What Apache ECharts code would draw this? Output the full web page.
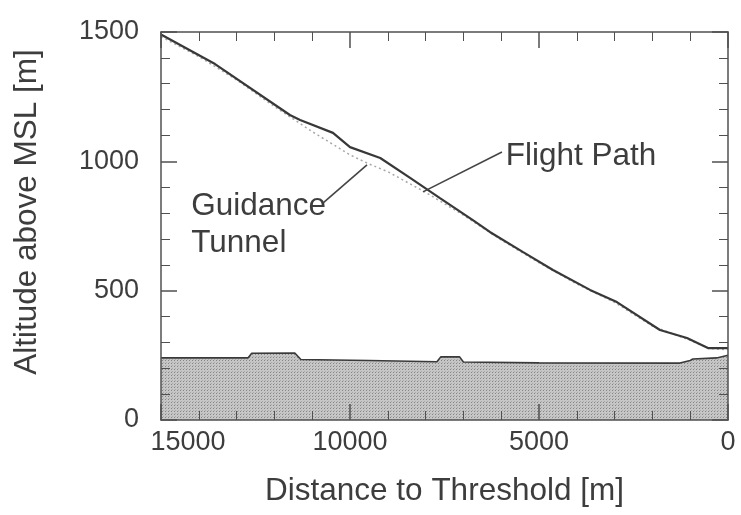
<!DOCTYPE html>
<html>
<head>
<meta charset="utf-8">
<script src="https://cdn.jsdelivr.net/npm/echarts@6/dist/echarts.min.js"></script>
<style>
html,body{margin:0;padding:0;background:#fff;}
#chart{width:741px;height:515px;}
</style>
</head>
<body>
<div id="chart"></div>
<script>
// ---- data (distance to threshold [m], altitude [m]) ----
const flightDist = [15000, 13570, 11590, 11320, 10450, 10000, 9200, 8410, 7620, 6750, 6300, 5420, 4630, 3650, 2940, 1800, 1085, 530, 0];
const flightAlt  = [1490, 1376, 1179, 1160, 1110, 1055, 1013, 936, 858, 773, 727, 649, 580, 503, 456, 348, 317, 278, 278];

const tunnelDist = [15000, 14000, 13000, 12000, 11000, 10000, 9500, 9000, 8000, 7000, 6000, 5000, 4000, 3000, 2000, 1000, 500, 0];
const tunnelAlt  = [1482, 1405, 1315, 1212, 1115, 1025, 990, 960, 880, 792, 696, 608, 526, 455, 363, 308, 276, 272];

const terrainDist = [15000, 12700, 12600, 11460, 11300, 9500, 7700, 7600, 7100, 7000, 5000, 1270, 1000, 930, 300, 0];
const terrainAlt  = [240, 240, 258, 259, 234, 230, 225, 244, 244, 224, 221, 220, 230, 236, 240, 250];

const pairs = (xs, ys) => xs.map((x, i) => [x, ys[i]]);

const FONT = "'Liberation Sans', Arial, Helvetica, sans-serif";
const TXT = '#3d3d3d';
const AXC = '#505050';

// halftone-like fill pattern for the terrain
const pat = document.createElement('canvas');
pat.width = 3; pat.height = 3;
const pc = pat.getContext('2d');
pc.fillStyle = '#c6c6c6'; pc.fillRect(0, 0, 3, 3);
pc.fillStyle = '#858585'; pc.fillRect(0, 0, 1, 1);
pc.fillStyle = '#a9a9a9'; pc.fillRect(1, 2, 1, 1);

const chart = echarts.init(document.getElementById('chart'), null, {renderer: 'canvas'});

function xAxisCfg(pos, showLabel) {
  return {
    type: 'value', position: pos, inverse: true,
    min: 0, max: 15000, interval: 5000, z: 10,
    axisLine: {show: true, onZero: false, lineStyle: {color: AXC, width: 1.5}},
    axisTick: {show: true, inside: true, length: 16, lineStyle: {color: AXC, width: 1.5}},
    minorTick: {show: true, splitNumber: 5, length: 9, lineStyle: {color: AXC, width: 1}},
    splitLine: {show: false},
    axisLabel: showLabel ? {
      show: true, fontSize: 27, color: TXT, fontFamily: FONT, margin: 9,
      formatter: v => v === 15000 ? '{a|' + v + '}' : String(v),
      rich: {a: {fontSize: 27, color: TXT, fontFamily: FONT, padding: [0, 0, 0, 54]}}
    } : {show: false},
    name: showLabel ? 'Distance to Threshold [m]' : '',
    nameLocation: 'middle', nameGap: 55,
    nameTextStyle: {fontSize: 31.5, color: TXT, fontFamily: FONT}
  };
}
function yAxisCfg(pos, showLabel) {
  return {
    type: 'value', position: pos,
    min: 0, max: 1500, interval: 500, z: 10,
    axisLine: {show: true, onZero: false, lineStyle: {color: AXC, width: 1.5}},
    axisTick: {show: true, inside: true, length: 16, lineStyle: {color: AXC, width: 1.5}},
    minorTick: {show: true, splitNumber: 5, length: 9, lineStyle: {color: AXC, width: 1}},
    splitLine: {show: false},
    axisLabel: showLabel ? {show: true, fontSize: 27, color: TXT, fontFamily: FONT, margin: 22, formatter: v => String(v)} : {show: false},
    name: showLabel ? 'Altitude above MSL [m]' : '',
    nameLocation: 'middle', nameGap: 118, nameRotate: 90,
    nameTextStyle: {fontSize: 31.5, color: TXT, fontFamily: FONT, padding: [0, 0, 0, 28]}
  };
}

chart.setOption({
  animation: false,
  backgroundColor: '#fff',
  grid: {left: 161, right: 13, top: 32, bottom: 95},
  xAxis: [xAxisCfg('bottom', true), xAxisCfg('top', false)],
  yAxis: [yAxisCfg('left', true), yAxisCfg('right', false)],
  series: [
    {
      name: 'Terrain', type: 'line', xAxisIndex: 0, yAxisIndex: 0,
      data: pairs(terrainDist, terrainAlt), symbol: 'none', z: 2,
      lineStyle: {color: '#3a3a3a', width: 1.6},
      areaStyle: {color: {image: pat, repeat: 'repeat'}, opacity: 1, origin: 'start'}
    },
    {
      name: 'Guidance Tunnel', type: 'line', xAxisIndex: 0, yAxisIndex: 0,
      data: pairs(tunnelDist, tunnelAlt), symbol: 'none', z: 3,
      lineStyle: {color: '#a8a8a8', width: 1.5, type: [2, 3]}
    },
    {
      name: 'Flight Path', type: 'line', xAxisIndex: 0, yAxisIndex: 0,
      data: pairs(flightDist, flightAlt), symbol: 'none', z: 4,
      lineStyle: {color: '#383838', width: 2.2}
    }
  ]
});

// ---- annotations placed in data coordinates ----
const annFlightText = [5880, 1020];
const annFlightLine = [[5980, 1036], [8070, 882]];
const annGuideText1 = [14200, 825];
const annGuideText2 = [14200, 685];
const annGuideLine = [[10710, 839], [9550, 986]];

const px = p => chart.convertToPixel({xAxisIndex: 0, yAxisIndex: 0}, p);
const a = px(annFlightText), g1 = px(annGuideText1), g2 = px(annGuideText2);
const fl0 = px(annFlightLine[0]), fl1 = px(annFlightLine[1]);
const gl0 = px(annGuideLine[0]), gl1 = px(annGuideLine[1]);
const annFont = '31.5px ' + FONT;

chart.setOption({
  graphic: [
    {type: 'line', z: 20, shape: {x1: fl0[0], y1: fl0[1], x2: fl1[0], y2: fl1[1]}, style: {stroke: '#444', lineWidth: 1.6}},
    {type: 'line', z: 20, shape: {x1: gl0[0], y1: gl0[1], x2: gl1[0], y2: gl1[1]}, style: {stroke: '#444', lineWidth: 1.6}},
    {type: 'text', z: 20, x: a[0], y: a[1], style: {text: 'Flight Path', fill: TXT, font: annFont, textAlign: 'left', textVerticalAlign: 'middle'}},
    {type: 'text', z: 20, x: g1[0], y: g1[1], style: {text: 'Guidance', fill: TXT, font: annFont, textAlign: 'left', textVerticalAlign: 'middle'}},
    {type: 'text', z: 20, x: g2[0], y: g2[1], style: {text: 'Tunnel', fill: TXT, font: annFont, textAlign: 'left', textVerticalAlign: 'middle'}}
  ]
});
</script>
</body>
</html>
